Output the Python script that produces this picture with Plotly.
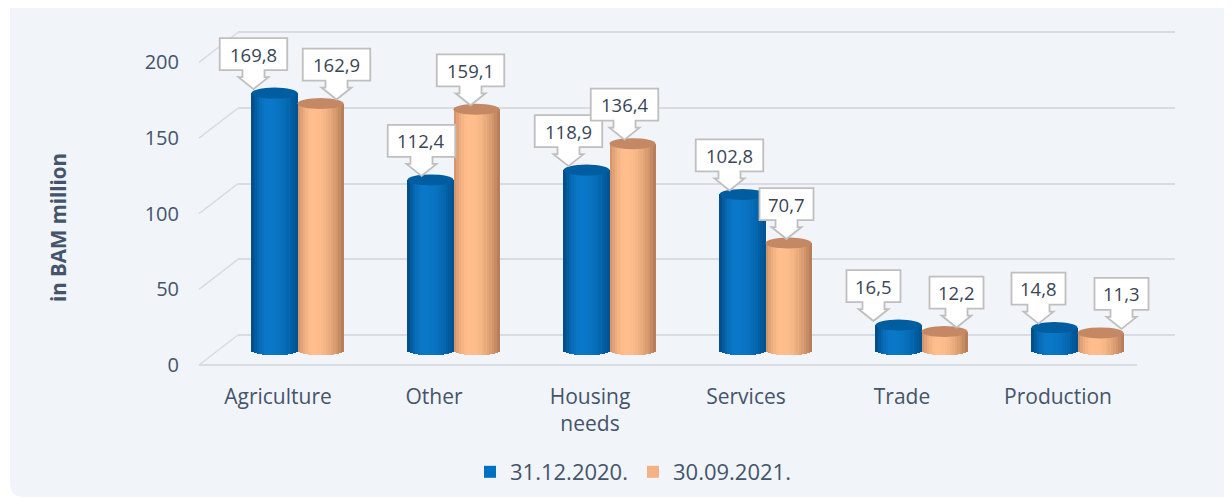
import numpy as np
import plotly.graph_objects as go

# ---------------- data ----------------
categories = ["Agriculture", "Other", "Housing<br>needs", "Services", "Trade", "Production"]
series_names = ["31.12.2020.", "30.09.2021."]
values_2020 = [169.8, 112.4, 118.9, 102.8, 16.5, 14.8]
values_2021 = [162.9, 159.1, 136.4, 70.7, 12.2, 11.3]
y_ticks = [0, 50, 100, 150, 200]
y_title = "in BAM million"

# ---------------- styling / geometry (screen pixels) ----------------
OFF = 8                      # page body margin
W, H = 1232 - OFF, 499 - OFF
sx = lambda p: p - OFF       # screen px -> figure px
PPU = 1.513                  # pixels per value unit
CAT0, CAT_STEP = sx(278), 156
BASE_MID, BASE_FRONT, BASE_BACK = sx(350), sx(365), sx(335)
FRONT_X0, FRONT_X1 = sx(199), sx(1137)
BACK_X0, BACK_X1 = sx(238), sx(1175)
ELL_B = 5.5
TEXT_COLOR = "#44546A"
GRID_COLOR = "#D9DDE3"
PANEL_COLOR = "#F1F4F9"
FONT = "Open Sans"

bar_w = 0.295
offsets = [-0.170, 0.125]
main_colors = ["#0070C0", "#F4B183"]
dark_l = ["#00467F", "#CC8D66"]
peak = ["#0A78C8", "#FFBE8C"]
dark_r = ["#004F8D", "#B07754"]
top_colors = ["#005DA0", "#C48865"]
callout_dx = [[-21, -9, -18, -13, -25, -16], [16, -6, -8, -2, 12, 21]]

series_vals = [values_2020, values_2021]
xpos = np.arange(len(categories))


def hex2rgb(h):
    h = h.lstrip("#")
    return np.array([int(h[i:i + 2], 16) for i in (0, 2, 4)], dtype=float)


def rgb2hex(c):
    c = np.clip(np.round(c), 0, 255).astype(int)
    return "#%02X%02X%02X" % tuple(c)


def shade(t, s):
    pk = 0.36
    if t <= pk:
        f = np.cos((pk - t) / pk * np.pi / 2) ** 0.8
        d = hex2rgb(dark_l[s])
    else:
        f = np.cos((t - pk) / (1 - pk) * np.pi / 2) ** 0.8
        d = hex2rgb(dark_r[s])
    return rgb2hex(d + (hex2rgb(peak[s]) - d) * f)


fig = go.Figure()

fig.add_trace(go.Scatter(x=[0], y=[0], xaxis="x", yaxis="y", mode="markers",
                         marker=dict(opacity=0), showlegend=False, hoverinfo="skip"))
fig.add_trace(go.Scatter(x=[0], y=[0], xaxis="x2", yaxis="y2", mode="markers",
                         marker=dict(opacity=0), showlegend=False, hoverinfo="skip"))

N = 18
ws = bar_w / N
b_units = ELL_B / PPU
for s in range(2):
    vals = np.array(series_vals[s])
    fig.add_trace(go.Bar(x=xpos, y=vals, xaxis="x3", yaxis="y3", offset=offsets[s], width=bar_w,
                         marker=dict(color=main_colors[s], line=dict(width=0)),
                         name=series_names[s], showlegend=True, hoverinfo="skip"))
    for k in range(N):
        u = (k + 0.5) / N
        dy = b_units * np.sqrt(max(0.0, 1 - (2 * u - 1) ** 2))
        extra = 0.004 if k < N - 1 else 0.0
        fig.add_trace(go.Bar(x=xpos, y=vals + dy, base=[-dy] * len(vals), xaxis="x3", yaxis="y3",
                             offset=offsets[s] + k * ws, width=ws + extra,
                             marker=dict(color=shade(u, s), line=dict(width=0)),
                             showlegend=False, hoverinfo="skip"))

shapes = []
annotations = []

r = 14
px = lambda p: p / W
py = lambda p: 1 - p / H
pl, pb = sx(10), sx(497)
panel = (f"M {px(pl)},{py(-20)} L {px(pl)},{py(pb - r)} Q {px(pl)},{py(pb)} {px(pl + r)},{py(pb)} "
         f"L {px(W + 20)},{py(pb)} L {px(W + 20)},{py(-20)} Z")
shapes.append(dict(type="path", path=panel, xref="paper", yref="paper", layer="below",
                   fillcolor=PANEL_COLOR, line=dict(width=0)))

for v in y_ticks:
    shapes.append(dict(type="line", xref="paper", yref="y", xsizemode="pixel", ysizemode="pixel",
                       xanchor=BACK_X0 / W, yanchor=v, x0=-(BACK_X0 - FRONT_X0), y0=-(BASE_FRONT - BASE_BACK),
                       x1=0, y1=0, line=dict(color=GRID_COLOR, width=1.5), layer="below"))

for s in range(2):
    for i, v in enumerate(series_vals[s]):
        shapes.append(dict(type="circle", xref="x3", yref="y3", x0=i + offsets[s], x1=i + offsets[s] + bar_w,
                           ysizemode="pixel", yanchor=v, y0=-ELL_B, y1=ELL_B,
                           fillcolor=top_colors[s], line=dict(width=0), layer="above"))

T0, HEAD_H, HEAD_W, STEM_H, STEM_W, BOX_H = 4, 12, 30, 7, 22, 32
for s in range(2):
    for i, v in enumerate(series_vals[s]):
        txt = f"{v:.1f}".replace(".", ",")
        bw = 13.5 * len(txt)
        dx = callout_dx[s][i]
        yb = T0 + HEAD_H + STEM_H
        pts = [(dx, T0), (dx + HEAD_W / 2, T0 + HEAD_H), (dx + STEM_W / 2, T0 + HEAD_H),
               (dx + STEM_W / 2, yb), (dx + bw / 2, yb), (dx + bw / 2, yb + BOX_H),
               (dx - bw / 2, yb + BOX_H), (dx - bw / 2, yb), (dx - STEM_W / 2, yb),
               (dx - STEM_W / 2, T0 + HEAD_H), (dx - HEAD_W / 2, T0 + HEAD_H)]
        path = "M " + " L ".join(f"{a},{b}" for a, b in pts) + " Z"
        xc = i + offsets[s] + bar_w / 2
        shapes.append(dict(type="path", path=path, xref="x3", yref="y3", xsizemode="pixel",
                           ysizemode="pixel", xanchor=xc, yanchor=v, fillcolor="white",
                           line=dict(color="#BFBFBF", width=1.8), layer="above"))
        annotations.append(dict(x=xc, y=v, xref="x3", yref="y3", text=txt, showarrow=False,
                                xshift=dx, yshift=yb + BOX_H / 2, xanchor="center", yanchor="middle",
                                font=dict(family=FONT, size=18.5, color="#3A4557")))

annotations.append(dict(x=sx(58) / W, y=py(sx(228)), xref="paper", yref="paper", text=f"<b>{y_title}</b>",
                        textangle=-90, showarrow=False, xanchor="center", yanchor="middle",
                        font=dict(family=FONT, size=20.5, color=TEXT_COLOR)))

fig.update_layout(
    width=W, height=H, margin=dict(l=0, r=0, t=0, b=0),
    paper_bgcolor="white", plot_bgcolor="rgba(0,0,0,0)",
    barmode="overlay", bargap=0,
    shapes=shapes, annotations=annotations,
    font=dict(family=FONT, color=TEXT_COLOR),
    showlegend=True,
    legend=dict(orientation="h", x=sx(633) / W, xanchor="center", y=py(sx(472)), yanchor="middle",
                font=dict(family=FONT, size=22, color=TEXT_COLOR), bgcolor="rgba(0,0,0,0)",
                traceorder="normal"),
    xaxis=dict(domain=[BACK_X0 / W, BACK_X1 / W], range=[0, 1], visible=False),
    yaxis=dict(anchor="x", domain=[0, 1],
               range=[-(H - BASE_BACK) / PPU, BASE_BACK / PPU], tickvals=y_ticks,
               showticklabels=False, showgrid=True, gridcolor=GRID_COLOR, gridwidth=1.5,
               zeroline=False, showline=False, ticks=""),
    xaxis2=dict(domain=[FRONT_X0 / W, FRONT_X1 / W], range=[0, 1], visible=False),
    yaxis2=dict(anchor="x2", domain=[0, 1],
                range=[-(H - BASE_FRONT) / PPU, BASE_FRONT / PPU], tickvals=y_ticks,
                showgrid=False, zeroline=True, zerolinecolor=GRID_COLOR, zerolinewidth=1.5,
                showline=False, ticks="", ticklabelstandoff=19,
                tickfont=dict(family=FONT, size=20, color=TEXT_COLOR)),
    xaxis3=dict(domain=[0, 1], range=[-CAT0 / CAT_STEP, (W - CAT0) / CAT_STEP],
                tickvals=list(xpos), ticktext=categories, anchor="free", position=py(sx(382)),
                showgrid=False, zeroline=False, showline=False, ticks="",
                tickfont=dict(family=FONT, size=21, color=TEXT_COLOR)),
    yaxis3=dict(anchor="x3", domain=[0, 1],
                range=[-(H - BASE_MID) / PPU, BASE_MID / PPU], visible=False),
)

fig.write_html("out.html")
